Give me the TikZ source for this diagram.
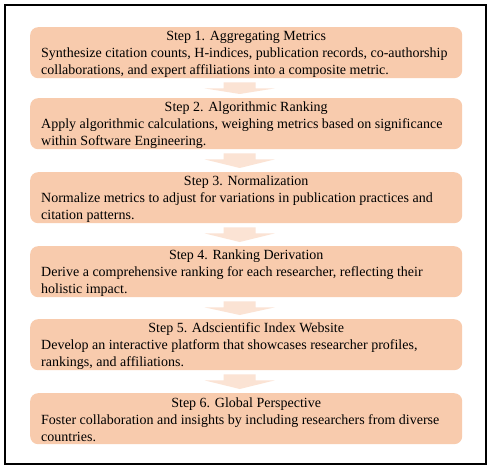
\documentclass[tikz,border=0pt]{standalone}
\usepackage{fontspec}
\setmainfont{Liberation Serif}
\usetikzlibrary{calc}
\definecolor{boxfill}{HTML}{F8CBAD}
\definecolor{arrowfill}{HTML}{FBE3D4}
\tikzset{
  stepbox/.style={fill=boxfill, rounded corners=8bp, minimum width=432bp, minimum height=51bp,
    inner sep=0pt, anchor=north west, font=\fontsize{14bp}{17bp}\selectfont},
  flowarrow/.style={fill=arrowfill, draw=none},
  framebox/.style={draw=black, line width=1.2bp}
}
\newcommand{\steptext}[2]{\begin{minipage}{410bp}\vspace*{3bp}{\centering #1\par}\raggedright #2\end{minipage}}
\newcommand{\blockarrow}[2]{%
  \path[flowarrow] let \p1=(#1.south), \p2=(#2.north) in
    (\x1-22.5bp,\y1-4bp) -- (\x1+9.5bp,\y1-4bp) -- (\x1+9.5bp,\y1-10bp) -- (\x1+28.5bp,\y1-10bp)
    -- (\x1-6.5bp,\y2+4bp) -- (\x1-41.5bp,\y1-10bp) -- (\x1-22.5bp,\y1-10bp) -- cycle;}
\begin{document}
\begin{tikzpicture}[x=1bp,y=-1bp]
\useasboundingbox (0,0) rectangle (495,471);
\fill[white] (0,0) rectangle (495,471);
\draw[framebox] (5,5) rectangle (486,464);
\node[stepbox] (s1) at (30,27) {\steptext{Step 1. Aggregating Metrics}{Synthesize citation counts, H-indices, publication records, co-authorship\\collaborations, and expert affiliations into a composite metric.}};
\node[stepbox] (s2) at (30,98) {\steptext{Step 2. Algorithmic Ranking}{Apply algorithmic calculations, weighing metrics based on significance\\within Software Engineering.}};
\node[stepbox] (s3) at (30,172) {\steptext{Step 3. Normalization}{Normalize metrics to adjust for variations in publication practices and\\citation patterns.}};
\node[stepbox] (s4) at (30,246) {\steptext{Step 4. Ranking Derivation}{Derive a comprehensive ranking for each researcher, reflecting their\\holistic impact.}};
\node[stepbox] (s5) at (30,319) {\steptext{Step 5. Adscientific Index Website}{Develop an interactive platform that showcases researcher profiles,\\rankings, and affiliations.}};
\node[stepbox] (s6) at (30,393) {\steptext{Step 6. Global Perspective}{Foster collaboration and insights by including researchers from diverse\\countries.}};
\blockarrow{s1}{s2}
\blockarrow{s2}{s3}
\blockarrow{s3}{s4}
\blockarrow{s4}{s5}
\blockarrow{s5}{s6}
\end{tikzpicture}
\end{document}
